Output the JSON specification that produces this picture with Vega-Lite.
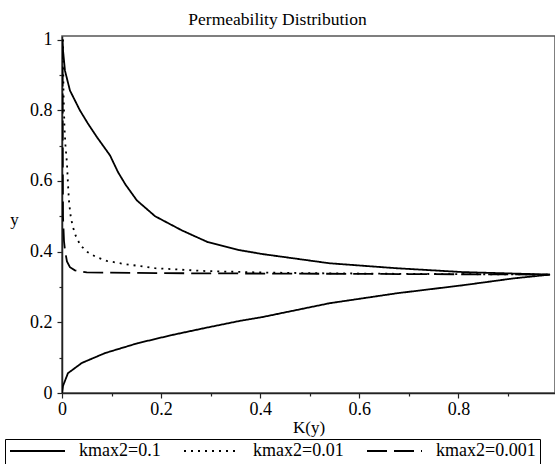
{
  "$schema": "https://vega.github.io/schema/vega-lite/v6.json",
  "autosize": "none",
  "width": 493,
  "height": 357,
  "padding": {"left": 62, "top": 36, "right": 0, "bottom": 71},
  "background": "white",
  "title": {"text": "Permeability Distribution", "font": "Liberation Serif", "fontSize": 17.5, "fontWeight": "normal", "color": "black", "offset": 2, "dx": -31},
  "config": {
    "view": {"stroke": "#555", "strokeWidth": 1.5},
    "axis": {"grid": false, "domainColor": "#222", "domainWidth": 1.5, "tickColor": "#222", "tickWidth": 1.2, "labelFont": "Liberation Serif", "labelFontSize": 18, "labelColor": "black", "titleFont": "Liberation Serif", "titleFontSize": 17, "titleColor": "black", "titleFontWeight": "normal"}
  },
  "data": {"values": [
    {"s": "kmax2=0.1", "o": 1, "K": 0, "y": 0},
    {"s": "kmax2=0.1", "o": 2, "K": 0.002, "y": 0.02},
    {"s": "kmax2=0.1", "o": 3, "K": 0.012, "y": 0.056},
    {"s": "kmax2=0.1", "o": 4, "K": 0.04, "y": 0.085},
    {"s": "kmax2=0.1", "o": 5, "K": 0.087, "y": 0.113},
    {"s": "kmax2=0.1", "o": 6, "K": 0.153, "y": 0.141},
    {"s": "kmax2=0.1", "o": 7, "K": 0.222, "y": 0.164},
    {"s": "kmax2=0.1", "o": 8, "K": 0.289, "y": 0.184},
    {"s": "kmax2=0.1", "o": 9, "K": 0.359, "y": 0.204},
    {"s": "kmax2=0.1", "o": 10, "K": 0.405, "y": 0.215},
    {"s": "kmax2=0.1", "o": 11, "K": 0.54, "y": 0.254},
    {"s": "kmax2=0.1", "o": 12, "K": 0.675, "y": 0.282},
    {"s": "kmax2=0.1", "o": 13, "K": 0.81, "y": 0.305},
    {"s": "kmax2=0.1", "o": 14, "K": 0.91, "y": 0.324},
    {"s": "kmax2=0.1", "o": 15, "K": 0.985, "y": 0.335},
    {"s": "kmax2=0.1", "o": 16, "K": 0.91, "y": 0.338},
    {"s": "kmax2=0.1", "o": 17, "K": 0.81, "y": 0.342},
    {"s": "kmax2=0.1", "o": 18, "K": 0.675, "y": 0.353},
    {"s": "kmax2=0.1", "o": 19, "K": 0.54, "y": 0.367},
    {"s": "kmax2=0.1", "o": 20, "K": 0.405, "y": 0.393},
    {"s": "kmax2=0.1", "o": 21, "K": 0.359, "y": 0.404},
    {"s": "kmax2=0.1", "o": 22, "K": 0.294, "y": 0.427},
    {"s": "kmax2=0.1", "o": 23, "K": 0.242, "y": 0.46},
    {"s": "kmax2=0.1", "o": 24, "K": 0.188, "y": 0.5},
    {"s": "kmax2=0.1", "o": 25, "K": 0.151, "y": 0.545},
    {"s": "kmax2=0.1", "o": 26, "K": 0.128, "y": 0.59},
    {"s": "kmax2=0.1", "o": 27, "K": 0.113, "y": 0.625},
    {"s": "kmax2=0.1", "o": 28, "K": 0.097, "y": 0.672},
    {"s": "kmax2=0.1", "o": 29, "K": 0.071, "y": 0.723},
    {"s": "kmax2=0.1", "o": 30, "K": 0.052, "y": 0.763},
    {"s": "kmax2=0.1", "o": 31, "K": 0.036, "y": 0.8},
    {"s": "kmax2=0.1", "o": 32, "K": 0.016, "y": 0.856},
    {"s": "kmax2=0.1", "o": 33, "K": 0.006, "y": 0.912},
    {"s": "kmax2=0.1", "o": 34, "K": 0.002, "y": 0.97},
    {"s": "kmax2=0.1", "o": 35, "K": 0, "y": 1},
    {"s": "kmax2=0.01", "o": 1, "K": 0.002, "y": 1},
    {"s": "kmax2=0.01", "o": 2, "K": 0.003, "y": 0.85},
    {"s": "kmax2=0.01", "o": 3, "K": 0.005, "y": 0.75},
    {"s": "kmax2=0.01", "o": 4, "K": 0.007, "y": 0.7},
    {"s": "kmax2=0.01", "o": 5, "K": 0.01, "y": 0.65},
    {"s": "kmax2=0.01", "o": 6, "K": 0.012, "y": 0.593},
    {"s": "kmax2=0.01", "o": 7, "K": 0.014, "y": 0.545},
    {"s": "kmax2=0.01", "o": 8, "K": 0.017, "y": 0.505},
    {"s": "kmax2=0.01", "o": 9, "K": 0.021, "y": 0.475},
    {"s": "kmax2=0.01", "o": 10, "K": 0.027, "y": 0.447},
    {"s": "kmax2=0.01", "o": 11, "K": 0.037, "y": 0.418},
    {"s": "kmax2=0.01", "o": 12, "K": 0.052, "y": 0.398},
    {"s": "kmax2=0.01", "o": 13, "K": 0.07, "y": 0.384},
    {"s": "kmax2=0.01", "o": 14, "K": 0.09, "y": 0.374},
    {"s": "kmax2=0.01", "o": 15, "K": 0.121, "y": 0.366},
    {"s": "kmax2=0.01", "o": 16, "K": 0.188, "y": 0.353},
    {"s": "kmax2=0.01", "o": 17, "K": 0.29, "y": 0.345},
    {"s": "kmax2=0.01", "o": 18, "K": 0.4, "y": 0.341},
    {"s": "kmax2=0.01", "o": 19, "K": 0.5, "y": 0.339},
    {"s": "kmax2=0.01", "o": 20, "K": 0.7, "y": 0.337},
    {"s": "kmax2=0.01", "o": 21, "K": 0.985, "y": 0.335},
    {"s": "kmax2=0.001", "o": 1, "K": 0.001, "y": 1},
    {"s": "kmax2=0.001", "o": 2, "K": 0.0015, "y": 0.7},
    {"s": "kmax2=0.001", "o": 3, "K": 0.002, "y": 0.5},
    {"s": "kmax2=0.001", "o": 4, "K": 0.004, "y": 0.43},
    {"s": "kmax2=0.001", "o": 5, "K": 0.006, "y": 0.404},
    {"s": "kmax2=0.001", "o": 6, "K": 0.01, "y": 0.372},
    {"s": "kmax2=0.001", "o": 7, "K": 0.016, "y": 0.356},
    {"s": "kmax2=0.001", "o": 8, "K": 0.026, "y": 0.347},
    {"s": "kmax2=0.001", "o": 9, "K": 0.05, "y": 0.341},
    {"s": "kmax2=0.001", "o": 10, "K": 0.2, "y": 0.339},
    {"s": "kmax2=0.001", "o": 11, "K": 0.6, "y": 0.337},
    {"s": "kmax2=0.001", "o": 12, "K": 0.985, "y": 0.335}
  ]},
  "mark": {"type": "line", "color": "black", "strokeWidth": 1.8, "clip": true},
  "encoding": {
    "x": {"field": "K", "type": "quantitative", "scale": {"domain": [0, 0.995], "nice": false, "zero": false},
      "axis": {"title": "K(y)", "titleY": 34, "titleBaseline": "middle", "values": [0, 0.1, 0.2, 0.3, 0.4, 0.5, 0.6, 0.7, 0.8, 0.9],
        "labelExpr": "round(datum.value*10)%2==0 ? toString(round(datum.value*10)/10) : ''",
        "tickSize": {"condition": {"test": "round(datum.value*10)%2==1", "value": 3}, "value": 5}, "labelPadding": 2, "labelFlush": false}},
    "y": {"field": "y", "type": "quantitative", "scale": {"domain": [0, 1.01], "nice": false},
      "axis": {"title": "y", "titleAngle": 0, "titleX": -48, "titleY": 183, "titleAlign": "center", "titleBaseline": "middle",
        "values": [0, 0.1, 0.2, 0.3, 0.4, 0.5, 0.6, 0.7, 0.8, 0.9, 1],
        "labelExpr": "round(datum.value*10)%2==0 ? toString(round(datum.value*10)/10) : ''",
        "tickSize": {"condition": {"test": "round(datum.value*10)%2==1", "value": 3}, "value": 5}, "labelPadding": 5}},
    "order": {"field": "o", "type": "quantitative"},
    "strokeDash": {"field": "s", "type": "nominal",
      "scale": {"domain": ["kmax2=0.1", "kmax2=0.01", "kmax2=0.001"], "range": [[1, 0], [2, 5], [20, 7]]},
      "legend": {"title": null, "orient": "none", "legendX": -57, "legendY": 403, "direction": "horizontal",
        "symbolType": "stroke", "symbolSize": 3025, "symbolStrokeWidth": 2, "symbolStrokeColor": "black", "clipHeight": 16,
        "labelFont": "Liberation Serif", "labelFontSize": 18, "labelColor": "black", "labelOffset": 13,
        "strokeColor": "black", "padding": 4, "columnPadding": 22, "labelLimit": 200}}
  }
}
